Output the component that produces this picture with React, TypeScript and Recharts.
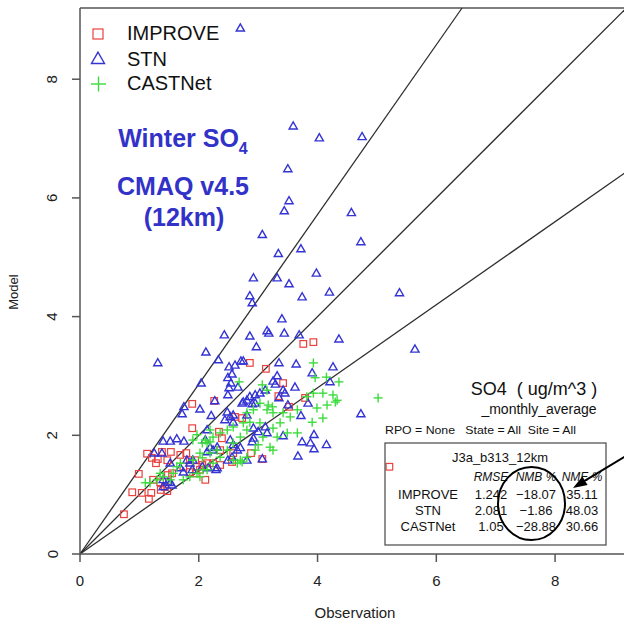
import React from 'react';
import { ScatterChart, Scatter, XAxis, YAxis, ReferenceLine } from 'recharts';

const FONT = '"Liberation Sans", Arial, Helvetica, sans-serif';
const RED = '#e8423f';
const BLUE = '#3434d4';
const GREEN = '#3ddc3d';
const TITLE_BLUE = '#3232c8';
const FRAME = '#555555';

// [observation, model] pairs, ug/m^3
const improvePts: [number, number][] = [
  [3.76, 3.54], [3.93, 3.57], [2.86, 3.22], [3.13, 3.12], [3.42, 2.88], [5.21, 1.47],
  [1.89, 2.53], [2.26, 2.58], [3.34, 2.66], [3.79, 2.63], [2.73, 2.29], [2.61, 2.31],
  [1.89, 2.12], [3.52, 2.48], [2.34, 2.06], [2.88, 1.7], [3.07, 1.6], [2.56, 1.55],
  [2.36, 1.5], [2.24, 1.53], [2.11, 1.25], [2.06, 1.5], [2.39, 1.95], [2.36, 1.75],
  [1.13, 1.69], [1.21, 1.62], [1.31, 1.6], [1.28, 1.53], [1.38, 1.72], [1.53, 1.72],
  [1.47, 1.58], [0.99, 1.35], [0.88, 1.04], [1.2, 1.03], [1.16, 0.93], [1.36, 1.08],
  [1.47, 1.06], [0.74, 0.67], [1.69, 1.67], [1.79, 1.7], [1.85, 1.58], [1.74, 1.47],
  [1.85, 1.38], [1.97, 1.47], [2.14, 1.53], [1.48, 1.33], [1.55, 1.36], [1.04, 1.03],
  [1.23, 1.25], [1.35, 1.21], [1.43, 1.13], [1.94, 1.58], [1.95, 1.36], [2.02, 1.42],
  [2.58, 1.7],
];

const stnPts: [number, number][] = [
  [2.7, 8.86], [3.59, 7.21], [4.03, 7.01], [4.75, 7.03],
  [3.5, 6.49], [3.52, 5.95], [3.44, 5.78], [4.57, 5.75], [4.73, 5.26], [3.07, 5.38],
  [3.72, 5.14], [3.34, 5.06], [2.92, 4.65], [3.32, 4.65], [3.98, 4.73], [3.52, 4.55],
  [2.86, 4.35], [2.9, 4.23], [3.74, 4.33], [4.2, 4.41], [5.38, 4.4],
  [3.4, 3.96], [2.43, 3.69], [2.86, 3.67], [3.15, 3.76], [3.18, 3.72], [3.44, 3.72],
  [3.69, 3.69], [4.36, 3.62], [5.64, 3.45], [2.97, 3.49], [2.12, 3.4], [1.31, 3.22],
  [2.33, 3.27], [2.71, 3.25], [2.75, 3.25], [3.35, 3.22], [3.64, 3.2], [4.26, 3.15],
  [2.61, 3.18], [2.51, 3.15], [2.56, 3.03], [2.49, 2.97], [3.32, 3.0], [3.91, 3.05],
  [3.25, 2.91], [3.29, 2.86], [3.62, 2.81], [2.04, 2.88], [2.54, 2.88], [4.21, 2.9],
  [2.51, 2.8], [2.49, 2.68], [2.66, 2.81], [3.42, 2.76], [3.45, 2.71], [2.75, 2.56],
  [2.86, 2.65], [2.95, 2.68], [3.03, 2.71], [2.9, 2.53], [3.12, 2.76], [3.35, 2.63],
  [3.5, 2.51], [3.84, 2.54], [2.27, 2.58], [1.75, 2.48], [1.72, 2.36], [2.02, 2.44],
  [2.21, 2.33], [2.44, 2.26], [2.53, 2.31], [2.58, 2.34], [2.58, 2.22], [2.48, 2.39],
  [2.81, 2.34], [2.73, 2.54], [2.81, 2.59], [2.95, 2.54], [3.72, 2.33], [4.73, 2.36],
  [2.92, 2.12], [3.0, 2.06], [3.12, 2.14], [3.15, 2.04], [3.42, 1.99], [3.94, 2.01],
  [3.74, 1.89], [3.88, 1.87], [3.94, 1.77], [4.15, 1.84], [3.67, 1.65], [3.07, 1.6],
  [1.4, 1.9], [1.52, 1.9], [1.63, 1.94], [1.75, 1.9], [2.14, 2.09], [2.11, 1.92],
  [2.24, 1.75], [2.31, 1.8], [2.53, 1.92], [2.58, 1.84], [2.65, 1.75], [2.7, 1.79],
  [2.9, 1.89], [2.92, 1.95], [2.81, 1.58], [2.31, 1.45], [2.56, 1.63], [2.49, 1.58],
  [1.25, 1.7], [1.38, 1.7], [1.69, 1.45], [1.74, 1.38], [1.48, 1.21], [1.55, 1.16],
  [1.8, 1.58], [1.89, 1.42], [2.06, 1.47], [2.16, 1.45], [2.14, 1.72], [2.19, 1.79],
  [2.29, 1.42], [1.52, 1.53], [1.85, 1.53], [1.9, 1.58], [1.4, 1.25], [1.52, 1.2],
  [1.4, 1.13],
];

const castnetPts: [number, number][] = [
  [3.93, 3.22], [3.96, 2.97], [4.15, 2.98], [4.36, 2.9], [5.02, 2.63], [3.07, 2.85],
  [3.15, 2.76], [2.68, 2.9], [4.09, 2.71], [3.82, 2.65], [4.16, 2.51], [4.3, 2.56],
  [4.09, 2.29], [3.66, 2.43], [3.54, 2.31], [3.37, 2.21], [3.25, 2.38], [3.15, 2.43],
  [3.03, 2.54], [2.92, 2.43], [2.81, 2.38], [2.75, 2.21], [2.58, 2.14], [2.48, 2.09],
  [2.36, 2.04], [3.03, 2.21], [3.08, 1.97], [3.2, 1.8], [3.25, 1.75], [3.49, 2.04],
  [3.66, 2.04], [2.81, 2.09], [2.7, 1.97], [2.58, 1.87], [2.48, 1.75], [2.24, 1.97],
  [2.14, 1.87], [2.02, 1.7], [1.9, 1.58], [2.31, 1.75], [2.36, 1.63], [2.24, 1.53],
  [2.58, 1.58], [2.7, 1.58], [2.81, 1.63], [2.07, 1.42], [1.97, 1.36], [1.85, 1.3],
  [1.74, 1.25], [1.63, 1.47], [1.57, 1.36], [1.52, 1.25], [1.3, 1.25], [1.18, 1.2],
  [1.1, 1.2], [1.4, 1.3], [1.35, 1.36], [4.26, 2.68], [4.33, 2.59], [3.99, 2.46],
  [3.91, 2.22], [3.42, 2.38], [3.25, 2.12], [3.32, 1.97], [3.0, 1.84], [2.95, 1.75],
  [2.86, 2.22], [2.19, 2.09], [2.11, 1.92], [2.65, 1.53], [2.73, 1.55], [2.19, 1.7],
  [2.14, 1.42], [2.06, 1.62], [1.9, 1.92], [1.97, 2.01], [2.06, 1.87], [2.19, 1.89],
  [1.69, 1.53], [2.02, 1.3], [3.17, 2.51], [3.24, 2.48], [3.93, 2.71],
];

const axisTicks = [0, 2, 4, 6, 8];
const xDomain: [number, number] = [0, 9.43];
const yDomain: [number, number] = [0, 9.2];
// model = slope * observation guide lines
const guideSlopes = [1.43, 1, 0.7];

const networks = ['IMPROVE', 'STN', 'CASTNet'];
const statHeaders = ['RMSE', 'NMB %', 'NME %'];
const rmseValues = ['1.242', '2.081', '1.05'];
const nmbValues = ['\u221218.07', '\u22121.86', '\u221228.88'];
const nmeValues = ['35.11', '48.03', '30.66'];

const toRows = (pts: [number, number][]) => pts.map(([x, y]) => ({ x, y }));

const SquareMark = ({ cx, cy, size = 6.6 }: any) => (
  <rect x={cx - size / 2} y={cy - size / 2} width={size} height={size} fill="none" stroke={RED} strokeWidth={1.2} />
);

const TriangleMark = ({ cx, cy, w = 8.2 }: any) => {
  const h = w * 0.87;
  return (
    <polygon
      points={`${cx},${cy - h * 0.6} ${cx - w / 2},${cy + h * 0.4} ${cx + w / 2},${cy + h * 0.4}`}
      fill="none"
      stroke={BLUE}
      strokeWidth={1.4}
    />
  );
};

const PlusMark = ({ cx, cy, size = 9 }: any) => (
  <g stroke={GREEN} strokeWidth={1.4}>
    <line x1={cx - size / 2} y1={cy} x2={cx + size / 2} y2={cy} />
    <line x1={cx} y1={cy - size / 2} x2={cx} y2={cy + size / 2} />
  </g>
);

const XTick = ({ x, y, payload }: any) => (
  <text x={x} y={y + 18} textAnchor="middle" dominantBaseline="central" fontFamily={FONT} fontSize={15} fill="#222">
    {payload.value}
  </text>
);

const YTick = ({ x, y, payload }: any) => (
  <text
    x={x - 20}
    y={y}
    transform={`rotate(-90 ${x - 20} ${y})`}
    textAnchor="middle"
    dominantBaseline="central"
    fontFamily={FONT}
    fontSize={15}
    fill="#222"
  >
    {payload.value}
  </text>
);

const guideEnd = (s: number) => {
  const x = Math.min(xDomain[1], yDomain[1] / s);
  return { x, y: s * x };
};

const colCenters = [491, 536, 582];
const rowBaselines = [499, 515, 531];
const pre = { whiteSpace: 'pre' as const };

export default function App() {
  return (
    <div style={{ position: 'absolute', left: 0, top: 0, width: 624, height: 625, overflow: 'hidden', background: '#fff' }}>
      <ScatterChart width={660} height={625} margin={{ top: 8, right: 20, bottom: 0, left: 20 }}>
        <XAxis
          type="number"
          dataKey="x"
          domain={xDomain}
          ticks={axisTicks}
          allowDataOverflow
          height={71}
          tickSize={8}
          tickMargin={0}
          tick={XTick}
          stroke={FRAME}
          strokeWidth={1.5}
        />
        <YAxis
          type="number"
          dataKey="y"
          domain={yDomain}
          ticks={axisTicks}
          allowDataOverflow
          width={60}
          tickSize={8}
          tickMargin={0}
          tick={YTick}
          stroke={FRAME}
          strokeWidth={1.5}
        />
        <ReferenceLine y={yDomain[1]} stroke={FRAME} strokeWidth={1.5} ifOverflow="visible" />
        <Scatter data={toRows(improvePts)} shape={(p: any) => <SquareMark cx={p.cx} cy={p.cy} />} isAnimationActive={false} />
        <Scatter data={toRows(stnPts)} shape={(p: any) => <TriangleMark cx={p.cx} cy={p.cy} />} isAnimationActive={false} />
        <Scatter data={toRows(castnetPts)} shape={(p: any) => <PlusMark cx={p.cx} cy={p.cy} />} isAnimationActive={false} />
        {guideSlopes.map((s) => (
          <ReferenceLine
            key={s}
            segment={[{ x: 0, y: 0 }, guideEnd(s)]}
            stroke="#2e2e2e"
            strokeWidth={1.3}
            ifOverflow="visible"
          />
        ))}
      </ScatterChart>

      <svg width={624} height={625} style={{ position: 'absolute', left: 0, top: 0, pointerEvents: 'none' }} fontFamily={FONT}>
        {/* legend */}
        <SquareMark cx={98} cy={34} size={10} />
        <TriangleMark cx={98} cy={59} w={13} />
        <PlusMark cx={98.5} cy={84} size={15} />
        {networks.map((n, i) => (
          <text key={n} x={127} y={[33, 59, 83][i]} dominantBaseline="central" fontSize={20} fill="#111">
            {n}
          </text>
        ))}

        {/* title */}
        <g fill={TITLE_BLUE} fontWeight="bold" textAnchor="middle">
          <text x={183} y={147} fontSize={25}>
            Winter SO<tspan fontSize={16} dy={7}>4</tspan>
          </text>
          <text x={183} y={195} fontSize={25}>CMAQ v4.5</text>
          <text x={184} y={226} fontSize={25}>(12km)</text>
        </g>

        {/* axis titles */}
        <text x={355} y={618} textAnchor="middle" fontSize={15} fill="#222">Observation</text>
        <text x={18} y={292} transform="rotate(-90 18 292)" textAnchor="middle" fontSize={13} fill="#222">Model</text>

        {/* statistics panel */}
        <text x={534} y={395} textAnchor="middle" fontSize={18} fill="#111" style={pre}>{'SO4  ( ug/m^3 )'}</text>
        <text x={539} y={414} textAnchor="middle" fontSize={14} fill="#111">_monthly_average</text>
        <text x={385} y={434} fontSize={10.5} fill="#111" style={pre} textLength={191} lengthAdjust="spacingAndGlyphs">
          {'RPO = None   State = All  Site = All'}
        </text>
        <rect x={385} y={443} width={221} height={102} fill="none" stroke={FRAME} strokeWidth={1.3} />
        <text x={500} y={462} textAnchor="middle" fontSize={13} fill="#111">J3a_b313_12km</text>
        {statHeaders.map((h, i) => (
          <text key={h} x={colCenters[i]} y={481} textAnchor="middle" fontSize={12} fontStyle="italic" fill="#111">
            {h}
          </text>
        ))}
        {networks.map((n, i) => (
          <g key={n} fontSize={13} fill="#111" textAnchor="middle">
            <text x={428} y={rowBaselines[i]}>{n}</text>
            <text x={colCenters[0]} y={rowBaselines[i]}>{rmseValues[i]}</text>
            <text x={colCenters[1]} y={rowBaselines[i]}>{nmbValues[i]}</text>
            <text x={colCenters[2]} y={rowBaselines[i]}>{nmeValues[i]}</text>
          </g>
        ))}

        {/* highlight on NMB column */}
        <ellipse cx={531.5} cy={503.5} rx={33.5} ry={36.5} fill="none" stroke="#000" strokeWidth={2} />
        <line x1={626} y1={456} x2={585} y2={480.7} stroke="#000" strokeWidth={2} />
        <polygon points="573,488 587.6,485 582.4,476.4" fill="#000" />
      </svg>
    </div>
  );
}
